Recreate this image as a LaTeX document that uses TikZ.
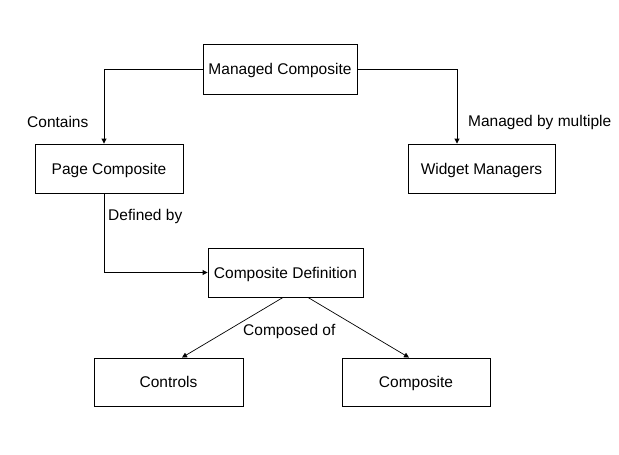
\documentclass[tikz,border=0pt]{standalone}
\usepackage{fontspec}
\setmainfont{Liberation Sans}
\usetikzlibrary{arrows.meta}
\begin{document}
\begin{tikzpicture}[x=1pt,y=-1pt,
  box/.style={draw,line width=0.9pt,inner sep=0pt,text height=12.5pt,text depth=1.5pt,font=\fontsize{15.5}{17}\selectfont},
  lab/.style={font=\fontsize{15.5}{17}\selectfont,inner sep=0pt},
  conn/.style={draw,line width=0.9pt,-{Triangle[length=5pt,width=5pt]}},
  thin/.style={draw,line width=0.7pt,-{Triangle[length=5pt,width=5pt]}}]
\useasboundingbox[fill=white] (0,0) rectangle (619,455);
\node[box,minimum width=154pt,minimum height=50pt] (mc) at (280,69) {Managed Composite};
\node[box,minimum width=148pt,minimum height=49pt] (pc) at (109,168.5) {Page Composite};
\node[box,minimum width=147pt,minimum height=49pt] (wm) at (481.5,168.5) {Widget Managers};
\node[box,minimum width=155pt,minimum height=49pt] (cd) at (285.5,272.5) {Composite Definition};
\node[box,minimum width=149pt,minimum height=48pt] (ct) at (168.5,382) {Controls};
\node[box,minimum width=148pt,minimum height=48pt] (cp) at (416,382) {Composite};
\draw[conn] (mc.west) -| ([xshift=-5pt]pc.north);
\draw[conn] (mc.east) -| ([xshift=-24.5pt]wm.north);
\draw[conn] ([xshift=-5pt]pc.south) |- (cd.west);
\draw[thin] ([xshift=-2.5pt]cd.south) -- ([xshift=13.5pt]ct.north);
\draw[thin] ([xshift=22.5pt]cd.south) -- ([xshift=-7pt]cp.north);
\node[lab,anchor=west] (l1) at (27,122) {Contains};
\node[lab,anchor=west] (l2) at (468,122) {Managed by multiple};
\node[lab,anchor=west] (l3) at (108,216) {Defined by};
\node[lab,anchor=west] (l4) at (243,331) {Composed of};
\end{tikzpicture}
\end{document}
